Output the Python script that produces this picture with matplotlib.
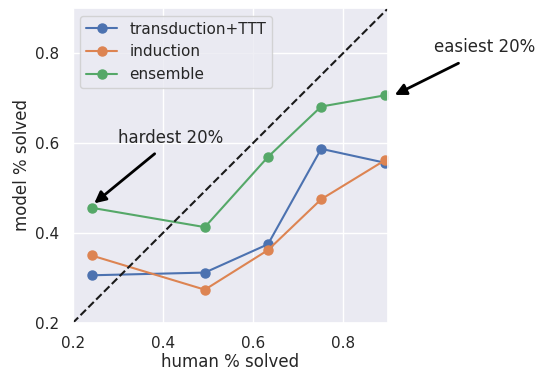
import matplotlib
matplotlib.use("Agg")
import matplotlib.pyplot as plt
import seaborn as sns

sns.set_theme(style="darkgrid")
plt.rcParams['font.family'] = ['DejaVu Sans']

human = [0.242, 0.493, 0.633, 0.751, 0.893]
transduction = [0.306, 0.312, 0.375, 0.587, 0.556]
induction = [0.350, 0.274, 0.362, 0.475, 0.562]
ensemble = [0.456, 0.413, 0.569, 0.681, 0.706]
series_names = ["transduction+TTT", "induction", "ensemble"]

fig = plt.figure(figsize=(5.41, 3.75), dpi=100)
ax = fig.add_axes([0.1344, 0.1387, 0.5835, 0.84])

for name, vals in zip(series_names, [transduction, induction, ensemble]):
    ax.plot(human, vals, marker='o', markersize=6.5, lw=1.5, label=name)

ax.plot([0.2, 0.9], [0.2, 0.9], 'k--', lw=1.5)
ax.set_xlim(0.2, 0.9)
ax.set_ylim(0.2, 0.9)
ax.set_xticks([0.2, 0.4, 0.6, 0.8])
ax.set_yticks([0.2, 0.4, 0.6, 0.8])
ax.tick_params(labelsize=11)
ax.set_xlabel("human % solved", fontsize=12, labelpad=1)
ax.set_ylabel("model % solved", fontsize=12, labelpad=3)
ax.legend(loc='upper left', fontsize=11)

ap = dict(arrowstyle='-|>', lw=2, color='black', mutation_scale=17)
ax.annotate('', xy=(0.243, 0.462), xytext=(0.3865, 0.58), arrowprops=ap, annotation_clip=False)
ax.text(0.300, 0.611, "hardest 20%", fontsize=12, ha='left', va='center', color='#262626')
ax.annotate('', xy=(0.9086, 0.704), xytext=(1.061, 0.78), arrowprops=ap, annotation_clip=False)
ax.text(1.0015, 0.813, "easiest 20%", fontsize=12, ha='left', va='center', color='#262626', clip_on=False)

fig.savefig("out.png", dpi=100)
